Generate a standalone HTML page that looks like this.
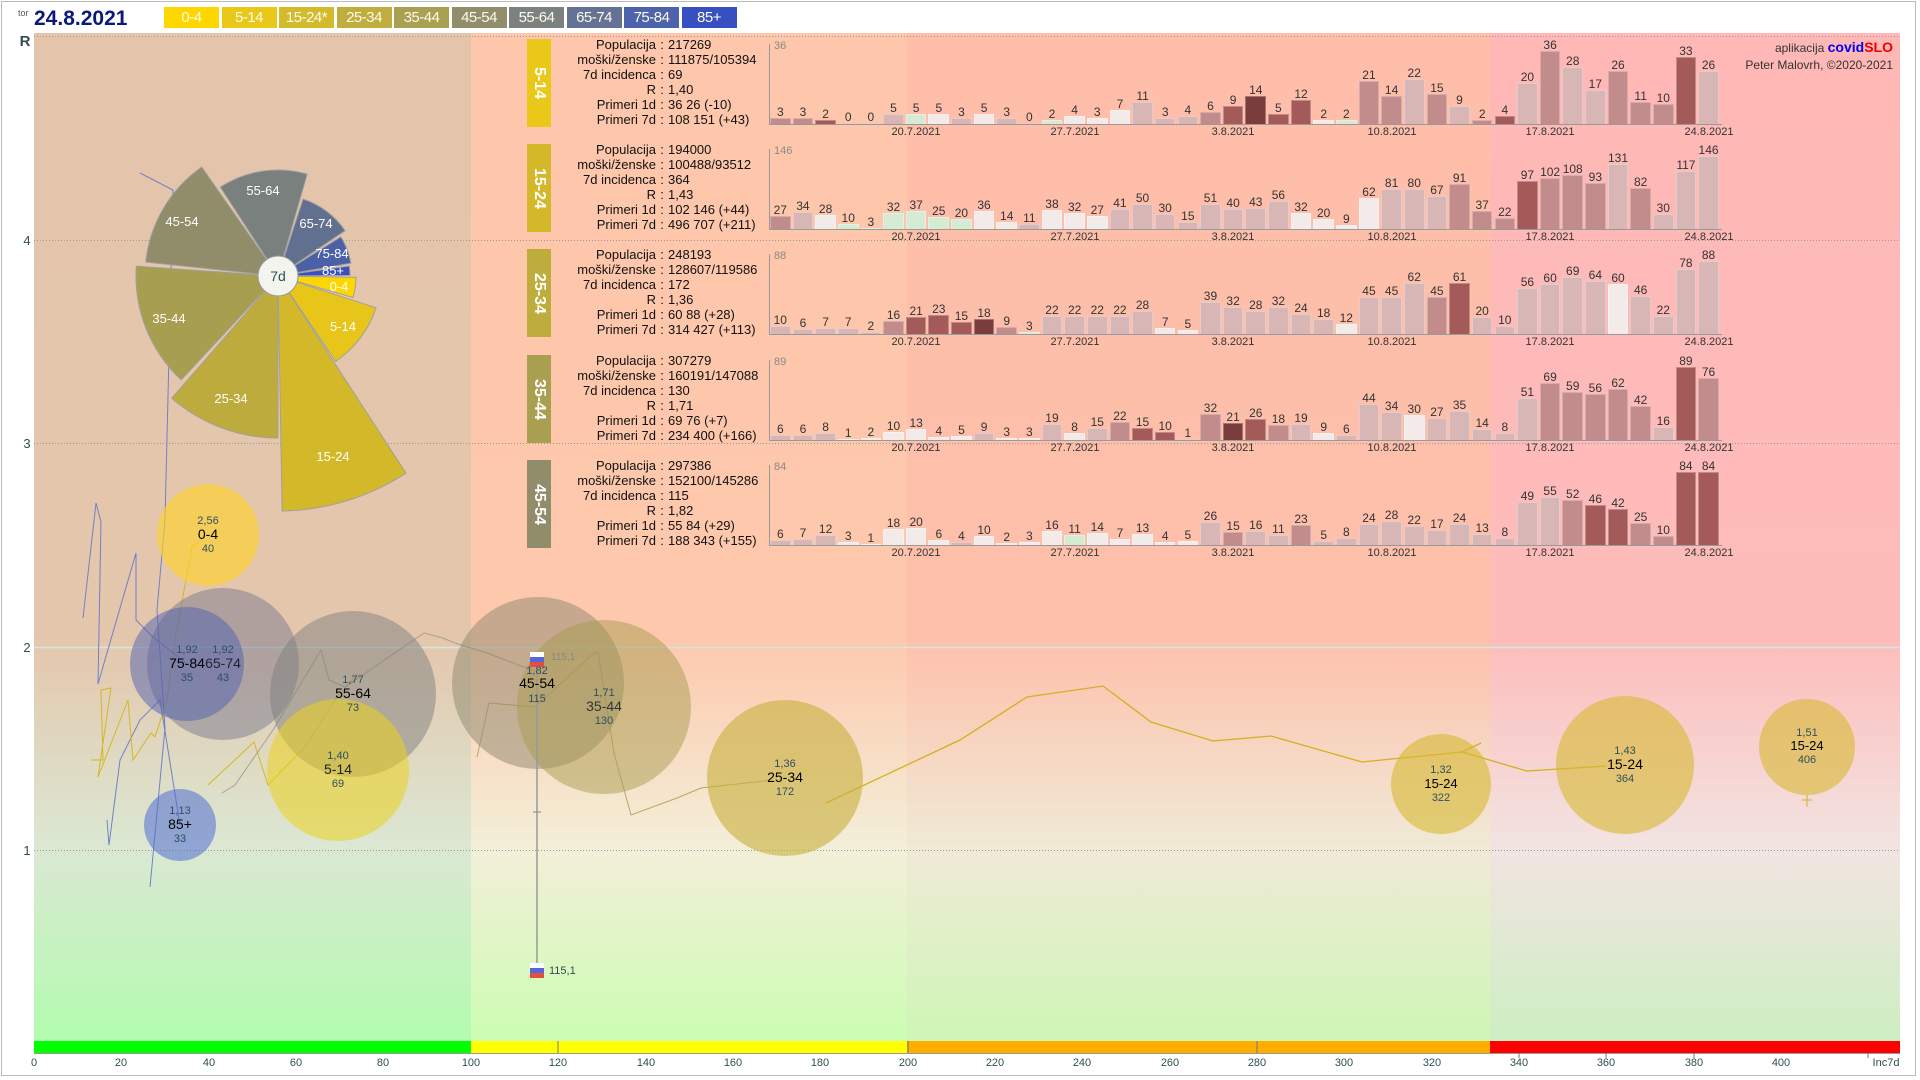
<!DOCTYPE html>
<html><head><meta charset="utf-8">
<style>
*{box-sizing:border-box;margin:0;padding:0}
body{width:1920px;height:1080px;position:relative;overflow:hidden;background:#fff;font-family:"Liberation Sans",sans-serif}
svg{position:absolute;left:0;top:0}
.lg{position:absolute;top:7px;height:21px;width:55px;color:#fffbe6;font-size:15px;line-height:21px;text-align:center;letter-spacing:-0.5px}
.pb{position:absolute;left:527px;width:24px;height:88px;color:#fff;font-weight:bold;font-size:16px;writing-mode:vertical-rl;text-align:center;line-height:24px}
.pt{position:absolute;left:538px;width:300px;font-size:13px;line-height:15px;color:#111}
.pt div{display:flex}
.pt span.kk{width:118px;text-align:right}
.pt span.cc{width:12px;text-align:center}
.bars{position:absolute;left:770px;width:960px;height:100px;display:flex;align-items:flex-end}
.bars i{display:block;position:relative;flex:none;width:20.6px;margin-right:2.05px;height:calc(var(--v) * var(--k));border:1px solid rgba(255,255,255,.3);border-bottom:none;font-style:normal}
.bars i b{position:absolute;bottom:calc(100% + 1px);left:-8px;right:-8px;text-align:center;font-weight:normal;font-style:normal;font-size:12px;color:#333;line-height:12px}
.a{background:#7a3c3c}.b{background:#a55a5a}.c{background:#c28c8c}.d{background:#d9b6b6}.e{background:#f3eaea}.f{background:#d6ebd4}
.ax{position:absolute;left:769px;width:1px;background:#999;height:80px}
.bl{position:absolute;left:769px;width:953px;height:1px;background:#999}
.mx{position:absolute;left:774px;font-size:11px;color:#888}
.dt{position:absolute;font-size:11px;color:#333;width:80px;margin-left:-40px;text-align:center}
</style></head><body>
<svg width="1920" height="1080" viewBox="0 0 1920 1080" xmlns="http://www.w3.org/2000/svg">
<defs>
<linearGradient id="g1" x1="0" y1="33" x2="0" y2="1041" gradientUnits="userSpaceOnUse"><stop offset="0" stop-color="#e4c5ab"/><stop offset="0.6" stop-color="#e4c6ac"/><stop offset="0.81" stop-color="#dbe8d3"/><stop offset="1" stop-color="#b2fcb0"/></linearGradient>
<linearGradient id="g2" x1="0" y1="33" x2="0" y2="1041" gradientUnits="userSpaceOnUse"><stop offset="0" stop-color="#fec6aa"/><stop offset="0.6" stop-color="#fec8ad"/><stop offset="0.81" stop-color="#f3efd8"/><stop offset="1" stop-color="#ccfdb3"/></linearGradient>
<linearGradient id="g3" x1="0" y1="33" x2="0" y2="1041" gradientUnits="userSpaceOnUse"><stop offset="0" stop-color="#febea9"/><stop offset="0.6" stop-color="#fec0ab"/><stop offset="0.81" stop-color="#f0ead6"/><stop offset="1" stop-color="#cef6b6"/></linearGradient>
<linearGradient id="g4" x1="0" y1="33" x2="0" y2="1041" gradientUnits="userSpaceOnUse"><stop offset="0" stop-color="#ffb8b6"/><stop offset="0.6" stop-color="#fdbcba"/><stop offset="0.81" stop-color="#f2e4e2"/><stop offset="1" stop-color="#cdefc2"/></linearGradient>
</defs>
<rect x="1.5" y="1.5" width="1914" height="1074" fill="none" stroke="#bbb"/>
<rect x="34" y="33" width="437" height="1008" fill="url(#g1)"/>
<rect x="471" y="33" width="437" height="1008" fill="url(#g2)"/>
<rect x="907" y="33" width="583" height="1008" fill="url(#g3)"/>
<rect x="1490" y="33" width="410" height="1008" fill="url(#g4)"/>
<rect x="34" y="1041" width="437" height="12" fill="#00ff00"/>
<rect x="471" y="1041" width="437" height="12" fill="#ffff00"/>
<rect x="907" y="1041" width="583" height="12" fill="#ffae00"/>
<rect x="1490" y="1041" width="410" height="12" fill="#ff0000"/>
<line x1="34" y1="1053.5" x2="1900" y2="1053.5" stroke="#999"/>
<g stroke="#999" stroke-dasharray="1,2" stroke-width="1">
<line x1="34" y1="36.5" x2="1900" y2="36.5"/><line x1="34" y1="240.5" x2="1900" y2="240.5"/><line x1="34" y1="443.5" x2="1900" y2="443.5"/><line x1="34" y1="850.5" x2="1900" y2="850.5"/>
</g>
<line x1="34" y1="647.5" x2="1900" y2="647.5" stroke="#cfe8e0" stroke-width="1.5"/>
<g font-size="13" fill="#2f4f4f" text-anchor="middle">
<text x="25" y="46" font-size="15" font-weight="bold">R</text>
<text x="27" y="245">4</text><text x="27" y="448">3</text><text x="27" y="652">2</text><text x="27" y="855">1</text>
</g>
<g font-size="11" fill="#2f4f4f" text-anchor="middle">
<text x="34" y="1066">0</text><text x="121" y="1066">20</text><text x="209" y="1066">40</text><text x="296" y="1066">60</text><text x="383" y="1066">80</text><text x="471" y="1066">100</text><text x="558" y="1066">120</text><text x="646" y="1066">140</text><text x="733" y="1066">160</text><text x="820" y="1066">180</text><text x="908" y="1066">200</text><text x="995" y="1066">220</text><text x="1082" y="1066">240</text><text x="1170" y="1066">260</text><text x="1257" y="1066">280</text><text x="1344" y="1066">300</text><text x="1432" y="1066">320</text><text x="1519" y="1066">340</text><text x="1606" y="1066">360</text><text x="1694" y="1066">380</text><text x="1781" y="1066">400</text><text x="1886" y="1066">Inc7d</text>
</g>
<g stroke="#777"><line x1="558" y1="1041" x2="558" y2="1053"/><line x1="908" y1="1041" x2="908" y2="1053"/><line x1="1257" y1="1041" x2="1257" y2="1053"/><line x1="1519" y1="1053" x2="1519" y2="1058"/><line x1="1606" y1="1053" x2="1606" y2="1058"/><line x1="1694" y1="1053" x2="1694" y2="1058"/><line x1="1868" y1="1053" x2="1868" y2="1058"/></g>

<g fill="none" stroke-width="1">
<polyline stroke="#7080c8" points="140,173 173,190 165,520 157,610 165,728 150,887"/>
<polyline stroke="#7080c8" points="83,618 96,503 101,522 98,684 136,553 136,620 153,637 187,664"/>
<polyline stroke="#7080c8" points="107,820 109,845 120,760 140,720 160,700 180,825"/>
<polyline stroke="#d4b820" points="91,760 103,760 101,690 111,688 98,777 128,700 133,760 151,733 155,737 167,700 175,640 192,547 207,535"/>
<polyline stroke="#d4b820" points="208,785 254,742 268,785 305,747 337,697 358,673"/>
<polyline stroke="#a8a090" points="222,793 235,785 273,730 321,650 329,680 345,687 424,633 443,638 455,643 487,653 537,672"/>
<polyline stroke="#b8a860" points="477,757 489,703 535,707 594,653 598,653 614,753 631,815 677,798 701,788 773,780"/>
<polyline stroke="#d4b020" stroke-width="1.3" points="826,803 960,740 1027,697 1103,686 1151,722 1213,741 1271,736 1362,762 1462,752 1527,771 1606,766"/>
<polyline stroke="#d4b020" stroke-width="1.3" points="1462,752 1481,743"/>
</g>
<g>
<circle cx="208" cy="535" r="51" fill="rgba(255,212,40,0.62)"/>
<circle cx="223" cy="664" r="76" fill="rgba(110,112,140,0.45)"/>
<circle cx="187" cy="664" r="57" fill="rgba(80,95,175,0.5)"/>
<circle cx="353" cy="694" r="83" fill="rgba(125,128,125,0.5)"/>
<circle cx="338" cy="770" r="71" fill="rgba(235,210,30,0.55)"/>
<circle cx="180" cy="825" r="36" fill="rgba(80,110,210,0.55)"/>
<circle cx="538" cy="683" r="86" fill="rgba(140,135,110,0.5)"/>
<circle cx="604" cy="707" r="87" fill="rgba(168,155,80,0.5)"/>
<circle cx="785" cy="778" r="78" fill="rgba(200,175,60,0.6)"/>
<circle cx="1441" cy="784" r="50" fill="rgba(215,185,50,0.6)"/>
<circle cx="1625" cy="765" r="69" fill="rgba(215,185,50,0.6)"/>
<circle cx="1807" cy="747" r="48" fill="rgba(215,185,50,0.6)"/>
</g>
<line x1="537" y1="655" x2="537" y2="965" stroke="#999" stroke-width="1.5"/>
<line x1="533" y1="812" x2="541" y2="812" stroke="#888"/>
<line x1="1807" y1="795" x2="1807" y2="807" stroke="#d4b020"/><line x1="1802" y1="800" x2="1812" y2="800" stroke="#d4b020"/>
<g><rect x="530" y="652" width="14" height="5" fill="#fff"/><rect x="530" y="657" width="14" height="5" fill="#5566dd"/><rect x="530" y="662" width="14" height="5" fill="#e05040"/></g>
<g><rect x="530" y="963" width="14" height="5" fill="#fff"/><rect x="530" y="968" width="14" height="5" fill="#5566dd"/><rect x="530" y="973" width="14" height="5" fill="#e05040"/></g>
<text x="551" y="660" font-size="10" fill="#888">115,1</text>
<text x="549" y="974" font-size="11" fill="#2f4f4f">115,1</text>
<g text-anchor="middle" font-size="11" fill="#2f4f5f">
<text x="208" y="524">2,56</text><text x="208" y="539" font-size="14" fill="#000">0-4</text><text x="208" y="552">40</text>
<text x="187" y="653">1,92</text><text x="187" y="668" font-size="14" fill="#000">75-84</text><text x="187" y="681">35</text>
<text x="223" y="653">1,92</text><text x="223" y="668" font-size="14" fill="#223">65-74</text><text x="223" y="681">43</text>
<text x="353" y="683">1,77</text><text x="353" y="698" font-size="14" fill="#000">55-64</text><text x="353" y="711">73</text>
<text x="338" y="759">1,40</text><text x="338" y="774" font-size="14" fill="#222">5-14</text><text x="338" y="787">69</text>
<text x="180" y="814">1,13</text><text x="180" y="829" font-size="14" fill="#000">85+</text><text x="180" y="842">33</text>
<text x="537" y="674">1,82</text><text x="537" y="688" font-size="14" fill="#000">45-54</text><text x="537" y="702">115</text>
<text x="604" y="696">1,71</text><text x="604" y="711" font-size="14" fill="#333">35-44</text><text x="604" y="724">130</text>
<text x="785" y="767">1,36</text><text x="785" y="782" font-size="14" fill="#000">25-34</text><text x="785" y="795">172</text>
<text x="1441" y="773">1,32</text><text x="1441" y="788" font-size="13" fill="#000">15-24</text><text x="1441" y="801">322</text>
<text x="1625" y="754">1,43</text><text x="1625" y="769" font-size="14" fill="#000">15-24</text><text x="1625" y="782">364</text>
<text x="1807" y="736">1,51</text><text x="1807" y="750" font-size="13" fill="#000">15-24</text><text x="1807" y="763">406</text>
</g>
<g stroke="#a0a0a0" stroke-width="1">
<path d="M278,276 L356,277.4 A78,78 0 0 1 353,297.5 Z" fill="#ffd700"/>
<path d="M278,276 L376,307.8 A103,103 0 0 1 335.6,361.4 Z" fill="#e8c619"/>
<path d="M278,276 L406,473.1 A235,235 0 0 1 282.1,511 Z" fill="#d3b92a"/>
<path d="M278,276 L278,438 A162,162 0 0 1 171.7,398.3 Z" fill="#beab3d"/>
<path d="M278,276 L181.2,379.9 A142,142 0 0 1 136.3,266.1 Z" fill="#a89e50"/>
<path d="M278,276 L145.7,262.1 A133,133 0 0 1 201.7,167 Z" fill="#918c69"/>
<path d="M278,276 L220.3,187.1 A106,106 0 0 1 307.2,174.1 Z" fill="#7a807d"/>
<path d="M278,276 L303,199 A81,81 0 0 1 345.1,230.7 Z" fill="#627090"/>
<path d="M278,276 L340.8,236.8 A74,74 0 0 1 350.9,263.2 Z" fill="#4c60a8"/>
<path d="M278,276 L349.3,266 A72,72 0 0 1 350,275.4 Z" fill="#3a50c0"/>
</g>
<circle cx="278" cy="276" r="20" fill="#f4f4ef" stroke="#999"/>
<g fill="#fff" font-size="13" text-anchor="middle">
<text x="263" y="195">55-64</text><text x="182" y="226">45-54</text><text x="316" y="228">65-74</text><text x="332" y="258">75-84</text><text x="333" y="275">85+</text><text x="339" y="291">0-4</text><text x="343" y="331">5-14</text><text x="169" y="323">35-44</text><text x="231" y="403">25-34</text><text x="333" y="461">15-24</text>
</g>
<text x="278" y="281" text-anchor="middle" font-size="14" fill="#2f4f4f">7d</text>
<text x="18" y="16" font-size="9" fill="#555">tor</text>
<text x="34" y="25" font-size="21" font-weight="bold" fill="#0b1a7a">24.8.2021</text>
<text x="1893" y="52" text-anchor="end" font-size="12" fill="#333">aplikacija <tspan fill="#0000ee" font-weight="bold" font-size="14">covid</tspan><tspan fill="#ee0000" font-weight="bold" font-size="14">SLO</tspan></text>
<text x="1893" y="69" text-anchor="end" font-size="12" fill="#333">Peter Malovrh, ©2020-2021</text>
</svg>

<div class="lg" style="left:164px;background:#ffd700">0-4</div>
<div class="lg" style="left:221.5px;background:#e9c81a">5-14</div>
<div class="lg" style="left:279px;background:#d4bb2e">15-24*</div>
<div class="lg" style="left:336.5px;background:#bfad40">25-34</div>
<div class="lg" style="left:394px;background:#a9a052">35-44</div>
<div class="lg" style="left:451.5px;background:#928e6b">45-54</div>
<div class="lg" style="left:509px;background:#7b8181">55-64</div>
<div class="lg" style="left:566.5px;background:#647296">65-74</div>
<div class="lg" style="left:624px;background:#4d63ab">75-84</div>
<div class="lg" style="left:681.5px;background:#3650c2">85+</div>

<div class="pb" style="top:39px;background:#e9c81a">5-14</div>
<div class="pt" style="top:37px">
<div><span class="kk">Populacija</span><span class="cc">:</span><span>217269</span></div>
<div><span class="kk">moški/ženske</span><span class="cc">:</span><span>111875/105394</span></div>
<div><span class="kk">7d incidenca</span><span class="cc">:</span><span>69</span></div>
<div><span class="kk">R</span><span class="cc">:</span><span>1,40</span></div>
<div><span class="kk">Primeri 1d</span><span class="cc">:</span><span>36 26 (-10)</span></div>
<div><span class="kk">Primeri 7d</span><span class="cc">:</span><span>108 151 (+43)</span></div>
</div>
<div class="ax" style="top:44px"></div><div class="bl" style="top:124px"></div><div class="mx" style="top:40px">36</div>
<div class="bars" style="top:24px;--k:calc(73px / 36)">
<i class="c" style="--v:3"><b>3</b></i><i class="c" style="--v:3"><b>3</b></i><i class="b" style="--v:2"><b>2</b></i><i class="d" style="--v:0"><b>0</b></i><i class="d" style="--v:0"><b>0</b></i><i class="d" style="--v:5"><b>5</b></i><i class="f" style="--v:5"><b>5</b></i><i class="e" style="--v:5"><b>5</b></i><i class="d" style="--v:3"><b>3</b></i><i class="e" style="--v:5"><b>5</b></i><i class="d" style="--v:3"><b>3</b></i><i class="d" style="--v:0"><b>0</b></i><i class="f" style="--v:2"><b>2</b></i><i class="e" style="--v:4"><b>4</b></i><i class="e" style="--v:3"><b>3</b></i><i class="e" style="--v:7"><b>7</b></i><i class="d" style="--v:11"><b>11</b></i><i class="d" style="--v:3"><b>3</b></i><i class="d" style="--v:4"><b>4</b></i><i class="c" style="--v:6"><b>6</b></i><i class="b" style="--v:9"><b>9</b></i><i class="a" style="--v:14"><b>14</b></i><i class="b" style="--v:5"><b>5</b></i><i class="b" style="--v:12"><b>12</b></i><i class="e" style="--v:2"><b>2</b></i><i class="f" style="--v:2"><b>2</b></i><i class="c" style="--v:21"><b>21</b></i><i class="c" style="--v:14"><b>14</b></i><i class="d" style="--v:22"><b>22</b></i><i class="c" style="--v:15"><b>15</b></i><i class="d" style="--v:9"><b>9</b></i><i class="c" style="--v:2"><b>2</b></i><i class="b" style="--v:4"><b>4</b></i><i class="d" style="--v:20"><b>20</b></i><i class="c" style="--v:36"><b>36</b></i><i class="d" style="--v:28"><b>28</b></i><i class="d" style="--v:17"><b>17</b></i><i class="c" style="--v:26"><b>26</b></i><i class="c" style="--v:11"><b>11</b></i><i class="c" style="--v:10"><b>10</b></i><i class="b" style="--v:33"><b>33</b></i><i class="d" style="--v:26"><b>26</b></i>
</div>

<div class="pb" style="top:144px;background:#d3b92a">15-24</div>
<div class="pt" style="top:142px">
<div><span class="kk">Populacija</span><span class="cc">:</span><span>194000</span></div>
<div><span class="kk">moški/ženske</span><span class="cc">:</span><span>100488/93512</span></div>
<div><span class="kk">7d incidenca</span><span class="cc">:</span><span>364</span></div>
<div><span class="kk">R</span><span class="cc">:</span><span>1,43</span></div>
<div><span class="kk">Primeri 1d</span><span class="cc">:</span><span>102 146 (+44)</span></div>
<div><span class="kk">Primeri 7d</span><span class="cc">:</span><span>496 707 (+211)</span></div>
</div>
<div class="ax" style="top:149px"></div><div class="bl" style="top:229px"></div><div class="mx" style="top:145px">146</div>
<div class="bars" style="top:129px;--k:calc(73px / 146)">
<i class="c" style="--v:27"><b>27</b></i><i class="d" style="--v:34"><b>34</b></i><i class="e" style="--v:28"><b>28</b></i><i class="f" style="--v:10"><b>10</b></i><i class="f" style="--v:3"><b>3</b></i><i class="f" style="--v:32"><b>32</b></i><i class="f" style="--v:37"><b>37</b></i><i class="f" style="--v:25"><b>25</b></i><i class="f" style="--v:20"><b>20</b></i><i class="e" style="--v:36"><b>36</b></i><i class="e" style="--v:14"><b>14</b></i><i class="d" style="--v:11"><b>11</b></i><i class="e" style="--v:38"><b>38</b></i><i class="e" style="--v:32"><b>32</b></i><i class="e" style="--v:27"><b>27</b></i><i class="d" style="--v:41"><b>41</b></i><i class="d" style="--v:50"><b>50</b></i><i class="d" style="--v:30"><b>30</b></i><i class="d" style="--v:15"><b>15</b></i><i class="d" style="--v:51"><b>51</b></i><i class="d" style="--v:40"><b>40</b></i><i class="d" style="--v:43"><b>43</b></i><i class="d" style="--v:56"><b>56</b></i><i class="e" style="--v:32"><b>32</b></i><i class="e" style="--v:20"><b>20</b></i><i class="e" style="--v:9"><b>9</b></i><i class="e" style="--v:62"><b>62</b></i><i class="d" style="--v:81"><b>81</b></i><i class="d" style="--v:80"><b>80</b></i><i class="d" style="--v:67"><b>67</b></i><i class="c" style="--v:91"><b>91</b></i><i class="c" style="--v:37"><b>37</b></i><i class="c" style="--v:22"><b>22</b></i><i class="b" style="--v:97"><b>97</b></i><i class="c" style="--v:102"><b>102</b></i><i class="c" style="--v:108"><b>108</b></i><i class="c" style="--v:93"><b>93</b></i><i class="d" style="--v:131"><b>131</b></i><i class="c" style="--v:82"><b>82</b></i><i class="d" style="--v:30"><b>30</b></i><i class="d" style="--v:117"><b>117</b></i><i class="d" style="--v:146"><b>146</b></i>
</div>

<div class="pb" style="top:249px;background:#bead3d">25-34</div>
<div class="pt" style="top:247px">
<div><span class="kk">Populacija</span><span class="cc">:</span><span>248193</span></div>
<div><span class="kk">moški/ženske</span><span class="cc">:</span><span>128607/119586</span></div>
<div><span class="kk">7d incidenca</span><span class="cc">:</span><span>172</span></div>
<div><span class="kk">R</span><span class="cc">:</span><span>1,36</span></div>
<div><span class="kk">Primeri 1d</span><span class="cc">:</span><span>60 88 (+28)</span></div>
<div><span class="kk">Primeri 7d</span><span class="cc">:</span><span>314 427 (+113)</span></div>
</div>
<div class="ax" style="top:254px"></div><div class="bl" style="top:334px"></div><div class="mx" style="top:250px">88</div>
<div class="bars" style="top:234px;--k:calc(73px / 88)">
<i class="d" style="--v:10"><b>10</b></i><i class="d" style="--v:6"><b>6</b></i><i class="d" style="--v:7"><b>7</b></i><i class="d" style="--v:7"><b>7</b></i><i class="d" style="--v:2"><b>2</b></i><i class="c" style="--v:16"><b>16</b></i><i class="b" style="--v:21"><b>21</b></i><i class="b" style="--v:23"><b>23</b></i><i class="b" style="--v:15"><b>15</b></i><i class="a" style="--v:18"><b>18</b></i><i class="c" style="--v:9"><b>9</b></i><i class="f" style="--v:3"><b>3</b></i><i class="d" style="--v:22"><b>22</b></i><i class="d" style="--v:22"><b>22</b></i><i class="d" style="--v:22"><b>22</b></i><i class="d" style="--v:22"><b>22</b></i><i class="d" style="--v:28"><b>28</b></i><i class="e" style="--v:7"><b>7</b></i><i class="e" style="--v:5"><b>5</b></i><i class="d" style="--v:39"><b>39</b></i><i class="d" style="--v:32"><b>32</b></i><i class="d" style="--v:28"><b>28</b></i><i class="d" style="--v:32"><b>32</b></i><i class="d" style="--v:24"><b>24</b></i><i class="d" style="--v:18"><b>18</b></i><i class="e" style="--v:12"><b>12</b></i><i class="d" style="--v:45"><b>45</b></i><i class="d" style="--v:45"><b>45</b></i><i class="d" style="--v:62"><b>62</b></i><i class="c" style="--v:45"><b>45</b></i><i class="b" style="--v:61"><b>61</b></i><i class="d" style="--v:20"><b>20</b></i><i class="d" style="--v:10"><b>10</b></i><i class="d" style="--v:56"><b>56</b></i><i class="d" style="--v:60"><b>60</b></i><i class="d" style="--v:69"><b>69</b></i><i class="d" style="--v:64"><b>64</b></i><i class="e" style="--v:60"><b>60</b></i><i class="d" style="--v:46"><b>46</b></i><i class="d" style="--v:22"><b>22</b></i><i class="d" style="--v:78"><b>78</b></i><i class="d" style="--v:88"><b>88</b></i>
</div>

<div class="pb" style="top:355px;background:#a89f50">35-44</div>
<div class="pt" style="top:353px">
<div><span class="kk">Populacija</span><span class="cc">:</span><span>307279</span></div>
<div><span class="kk">moški/ženske</span><span class="cc">:</span><span>160191/147088</span></div>
<div><span class="kk">7d incidenca</span><span class="cc">:</span><span>130</span></div>
<div><span class="kk">R</span><span class="cc">:</span><span>1,71</span></div>
<div><span class="kk">Primeri 1d</span><span class="cc">:</span><span>69 76 (+7)</span></div>
<div><span class="kk">Primeri 7d</span><span class="cc">:</span><span>234 400 (+166)</span></div>
</div>
<div class="ax" style="top:360px"></div><div class="bl" style="top:440px"></div><div class="mx" style="top:356px">89</div>
<div class="bars" style="top:340px;--k:calc(73px / 89)">
<i class="d" style="--v:6"><b>6</b></i><i class="d" style="--v:6"><b>6</b></i><i class="d" style="--v:8"><b>8</b></i><i class="e" style="--v:1"><b>1</b></i><i class="e" style="--v:2"><b>2</b></i><i class="e" style="--v:10"><b>10</b></i><i class="e" style="--v:13"><b>13</b></i><i class="e" style="--v:4"><b>4</b></i><i class="e" style="--v:5"><b>5</b></i><i class="d" style="--v:9"><b>9</b></i><i class="e" style="--v:3"><b>3</b></i><i class="e" style="--v:3"><b>3</b></i><i class="d" style="--v:19"><b>19</b></i><i class="e" style="--v:8"><b>8</b></i><i class="d" style="--v:15"><b>15</b></i><i class="c" style="--v:22"><b>22</b></i><i class="b" style="--v:15"><b>15</b></i><i class="b" style="--v:10"><b>10</b></i><i class="d" style="--v:1"><b>1</b></i><i class="c" style="--v:32"><b>32</b></i><i class="a" style="--v:21"><b>21</b></i><i class="b" style="--v:26"><b>26</b></i><i class="c" style="--v:18"><b>18</b></i><i class="d" style="--v:19"><b>19</b></i><i class="e" style="--v:9"><b>9</b></i><i class="d" style="--v:6"><b>6</b></i><i class="d" style="--v:44"><b>44</b></i><i class="d" style="--v:34"><b>34</b></i><i class="e" style="--v:30"><b>30</b></i><i class="d" style="--v:27"><b>27</b></i><i class="d" style="--v:35"><b>35</b></i><i class="d" style="--v:14"><b>14</b></i><i class="d" style="--v:8"><b>8</b></i><i class="d" style="--v:51"><b>51</b></i><i class="c" style="--v:69"><b>69</b></i><i class="c" style="--v:59"><b>59</b></i><i class="c" style="--v:56"><b>56</b></i><i class="c" style="--v:62"><b>62</b></i><i class="c" style="--v:42"><b>42</b></i><i class="d" style="--v:16"><b>16</b></i><i class="b" style="--v:89"><b>89</b></i><i class="c" style="--v:76"><b>76</b></i>
</div>

<div class="pb" style="top:460px;background:#918d6a">45-54</div>
<div class="pt" style="top:458px">
<div><span class="kk">Populacija</span><span class="cc">:</span><span>297386</span></div>
<div><span class="kk">moški/ženske</span><span class="cc">:</span><span>152100/145286</span></div>
<div><span class="kk">7d incidenca</span><span class="cc">:</span><span>115</span></div>
<div><span class="kk">R</span><span class="cc">:</span><span>1,82</span></div>
<div><span class="kk">Primeri 1d</span><span class="cc">:</span><span>55 84 (+29)</span></div>
<div><span class="kk">Primeri 7d</span><span class="cc">:</span><span>188 343 (+155)</span></div>
</div>
<div class="ax" style="top:465px"></div><div class="bl" style="top:545px"></div><div class="mx" style="top:461px">84</div>
<div class="bars" style="top:445px;--k:calc(73px / 84)">
<i class="d" style="--v:6"><b>6</b></i><i class="d" style="--v:7"><b>7</b></i><i class="d" style="--v:12"><b>12</b></i><i class="e" style="--v:3"><b>3</b></i><i class="e" style="--v:1"><b>1</b></i><i class="e" style="--v:18"><b>18</b></i><i class="e" style="--v:20"><b>20</b></i><i class="e" style="--v:6"><b>6</b></i><i class="d" style="--v:4"><b>4</b></i><i class="e" style="--v:10"><b>10</b></i><i class="e" style="--v:2"><b>2</b></i><i class="e" style="--v:3"><b>3</b></i><i class="e" style="--v:16"><b>16</b></i><i class="f" style="--v:11"><b>11</b></i><i class="e" style="--v:14"><b>14</b></i><i class="e" style="--v:7"><b>7</b></i><i class="e" style="--v:13"><b>13</b></i><i class="e" style="--v:4"><b>4</b></i><i class="e" style="--v:5"><b>5</b></i><i class="d" style="--v:26"><b>26</b></i><i class="c" style="--v:15"><b>15</b></i><i class="d" style="--v:16"><b>16</b></i><i class="d" style="--v:11"><b>11</b></i><i class="c" style="--v:23"><b>23</b></i><i class="d" style="--v:5"><b>5</b></i><i class="d" style="--v:8"><b>8</b></i><i class="d" style="--v:24"><b>24</b></i><i class="d" style="--v:28"><b>28</b></i><i class="d" style="--v:22"><b>22</b></i><i class="d" style="--v:17"><b>17</b></i><i class="d" style="--v:24"><b>24</b></i><i class="d" style="--v:13"><b>13</b></i><i class="d" style="--v:8"><b>8</b></i><i class="d" style="--v:49"><b>49</b></i><i class="d" style="--v:55"><b>55</b></i><i class="c" style="--v:52"><b>52</b></i><i class="b" style="--v:46"><b>46</b></i><i class="b" style="--v:42"><b>42</b></i><i class="c" style="--v:25"><b>25</b></i><i class="c" style="--v:10"><b>10</b></i><i class="b" style="--v:84"><b>84</b></i><i class="b" style="--v:84"><b>84</b></i>
</div>

<div class="dt" style="left:916px;top:126px">20.7.2021</div><div class="dt" style="left:1075px;top:126px">27.7.2021</div><div class="dt" style="left:1233px;top:126px">3.8.2021</div><div class="dt" style="left:1392px;top:126px">10.8.2021</div><div class="dt" style="left:1550px;top:126px">17.8.2021</div><div class="dt" style="left:1709px;top:126px">24.8.2021</div>
<div class="dt" style="left:916px;top:231px">20.7.2021</div><div class="dt" style="left:1075px;top:231px">27.7.2021</div><div class="dt" style="left:1233px;top:231px">3.8.2021</div><div class="dt" style="left:1392px;top:231px">10.8.2021</div><div class="dt" style="left:1550px;top:231px">17.8.2021</div><div class="dt" style="left:1709px;top:231px">24.8.2021</div>
<div class="dt" style="left:916px;top:336px">20.7.2021</div><div class="dt" style="left:1075px;top:336px">27.7.2021</div><div class="dt" style="left:1233px;top:336px">3.8.2021</div><div class="dt" style="left:1392px;top:336px">10.8.2021</div><div class="dt" style="left:1550px;top:336px">17.8.2021</div><div class="dt" style="left:1709px;top:336px">24.8.2021</div>
<div class="dt" style="left:916px;top:442px">20.7.2021</div><div class="dt" style="left:1075px;top:442px">27.7.2021</div><div class="dt" style="left:1233px;top:442px">3.8.2021</div><div class="dt" style="left:1392px;top:442px">10.8.2021</div><div class="dt" style="left:1550px;top:442px">17.8.2021</div><div class="dt" style="left:1709px;top:442px">24.8.2021</div>
<div class="dt" style="left:916px;top:547px">20.7.2021</div><div class="dt" style="left:1075px;top:547px">27.7.2021</div><div class="dt" style="left:1233px;top:547px">3.8.2021</div><div class="dt" style="left:1392px;top:547px">10.8.2021</div><div class="dt" style="left:1550px;top:547px">17.8.2021</div><div class="dt" style="left:1709px;top:547px">24.8.2021</div>
</body></html>
